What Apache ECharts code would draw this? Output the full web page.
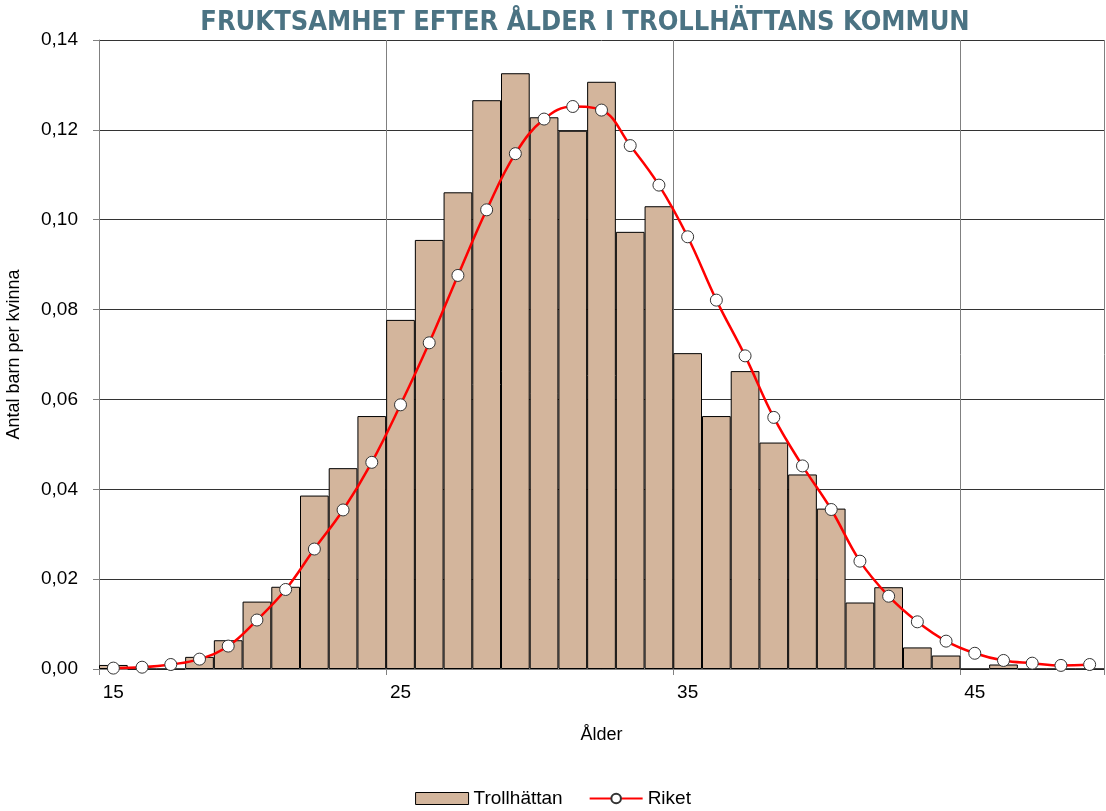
<!DOCTYPE html>
<html><head><meta charset="utf-8">
<script src="https://cdn.jsdelivr.net/npm/echarts@6/dist/echarts.min.js"></script>
<style>html,body{margin:0;padding:0;background:#fff}#c{width:1106px;height:811px}</style>
</head><body><div id="c"></div>
<script>
var ages = [];
for (var a = 15; a <= 49; a++) ages.push(String(a));
var trollhattan = [0.0009,0,0,0.0027,0.0064,0.0150,0.0183,0.0386,0.0447,0.0563,
  0.0777,0.0955,0.1061,0.1266,0.1326,0.1228,0.1198,0.1307,0.0973,0.1030,
  0.0703,0.0563,0.0663,0.0504,0.0433,0.0357,0.0148,0.0182,0.0048,0.0030,
  0,0.0010,0,0,0];
var riket = [0.0002,0.0004,0.0010,0.0022,0.0051,0.0109,0.0177,0.0267,0.0354,0.0460,
  0.0588,0.0726,0.0876,0.1022,0.1147,0.1224,0.1252,0.1244,0.1165,0.1077,
  0.0962,0.0821,0.0697,0.0560,0.0452,0.0355,0.0240,0.0162,0.0105,0.0062,
  0.0035,0.0019,0.0013,0.0008,0.0010];
var titleText = 'FRUKTSAMHET EFTER ÅLDER I TROLLHÄTTANS KOMMUN';

var chart = echarts.init(document.getElementById('c'), null, {renderer:'canvas'});
chart.setOption({
  animation:false,
  textStyle:{fontFamily:'Liberation Sans'},
  title:{text:titleText,left:580,textAlign:'center',top:4,
    textStyle:{fontFamily:'DejaVu Sans Condensed, Liberation Sans',fontWeight:'bold',fontSize:27,color:'#4b7383'}},
  grid:{left:99,right:2,top:40,bottom:142,containLabel:false,outerBoundsMode:'none'},
  legend:{bottom:-2,left:'center',itemGap:26,
    textStyle:{fontSize:19,color:'#000',fontFamily:'Liberation Sans'},
    data:[{name:'Trollhättan',icon:'rect',itemStyle:{borderWidth:1,borderColor:'#000'}},{name:'Riket'}],
    itemWidth:53,itemHeight:12},
  xAxis:{type:'category',data:ages,boundaryGap:true,
    name:'Ålder',nameLocation:'middle',nameGap:57,
    nameTextStyle:{fontSize:18,color:'#000'},
    axisLine:{lineStyle:{color:'#808080',width:1}},
    axisTick:{show:true,interval:9,length:6,lineStyle:{color:'#808080'}},
    axisLabel:{interval:9,fontSize:19,color:'#000',margin:14},
    splitLine:{show:true,interval:9,lineStyle:{color:'#808080',width:1}}},
  yAxis:{type:'value',min:0,max:0.14,interval:0.02,
    name:'Antal barn per kvinna',nameLocation:'middle',nameGap:76,nameRotate:90,
    nameTextStyle:{fontSize:18,color:'#000'},
    axisLine:{show:true,lineStyle:{color:'#808080'}},
    axisTick:{show:true,length:6,lineStyle:{color:'#808080'}},
    axisLabel:{fontSize:19,color:'#000',margin:21,
      formatter:function(v){return v.toFixed(2).replace('.',',');}},
    splitLine:{show:true,lineStyle:{color:'#333',width:1}}},
  series:[
    {name:'Trollhättan',type:'bar',data:trollhattan,barCategoryGap:'0%',
     itemStyle:{color:'#d3b59c',borderColor:'#000',borderWidth:1}},
    {name:'Riket',type:'line',data:riket,smooth:0.4,symbol:'circle',symbolSize:12,
     showAllSymbol:true,
     lineStyle:{color:'#ff0000',width:2.5},
     itemStyle:{color:'#ffffff',borderColor:'#333',borderWidth:1}}
  ]
});
</script></body></html>
